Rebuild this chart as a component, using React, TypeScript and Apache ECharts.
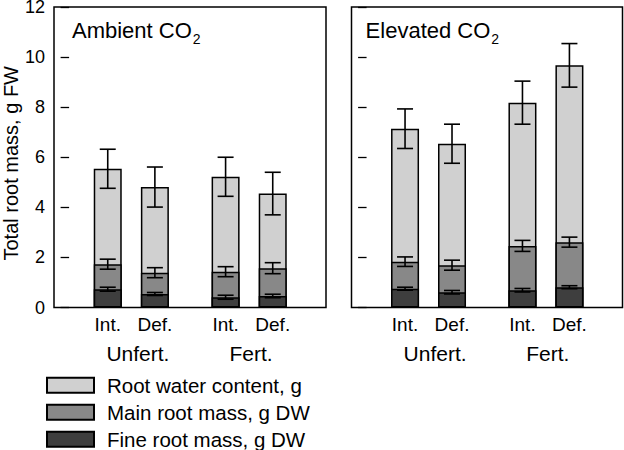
import React, { useEffect, useRef } from 'react';
import * as echarts from 'echarts';

// ---- Data ----
const treatmentLabels = ['Int.', 'Def.', 'Int.', 'Def.'];
const fertilizationLabels = ['Unfert.', 'Fert.'];
const panelTitles = ['Ambient CO', 'Elevated CO'];
const seriesNames = ['Root water content, g', 'Main root mass, g DW', 'Fine root mass, g DW'];

// Ambient CO2 panel: segment values (g) and SE
const ambientFine = [0.73, 0.54, 0.41, 0.46];
const ambientMain = [1.0, 0.85, 1.02, 1.11];
const ambientWater = [3.81, 3.42, 3.79, 2.98];
const ambientFineErr = [0.08, 0.06, 0.08, 0.07];
const ambientMainErr = [0.2, 0.2, 0.2, 0.22];
const ambientWaterErr = [0.78, 0.8, 0.78, 0.85];

// Elevated CO2 panel
const elevatedFine = [0.75, 0.61, 0.69, 0.81];
const elevatedMain = [1.08, 1.08, 1.77, 1.8];
const elevatedWater = [5.31, 4.85, 5.72, 7.06];
const elevatedFineErr = [0.06, 0.07, 0.07, 0.06];
const elevatedMainErr = [0.19, 0.2, 0.22, 0.2];
const elevatedWaterErr = [0.79, 0.78, 0.86, 0.87];

// ---- Layout (positions of bars on the x value axis) ----
const BAR_POS = [1, 2, 3.5, 4.5];
const GROUP_POS = [1.64, 4.04];
const X_MIN = -0.14;
const X_MAX = 5.63;

const FONT = 'Liberation Sans, Arial, Helvetica, sans-serif';
const COLORS = ['#d0d0d0', '#888888', '#3e3e3e'];

function panelSeries(
  p: number,
  fine: number[],
  main: number[],
  water: number[],
  fineErr: number[],
  mainErr: number[],
  waterErr: number[]
) {
  const cumFine = fine.map((v) => v);
  const cumMain = fine.map((v, i) => v + main[i]);
  const cumTotal = cumMain.map((v, i) => v + water[i]);
  const levels = [cumTotal, cumMain, cumFine];
  const bars = levels.map((vals, k) => ({
    type: 'bar',
    name: seriesNames[k],
    xAxisIndex: p * 2,
    yAxisIndex: p,
    barWidth: 28,
    barGap: '-100%',
    silent: true,
    itemStyle: { color: COLORS[k], borderColor: '#000', borderWidth: 1.5 },
    emphasis: { disabled: true },
    data: BAR_POS.map((x, i) => [x, vals[i]]),
  }));
  const errRows: number[][] = [];
  BAR_POS.forEach((x, i) => {
    errRows.push([x, cumTotal[i], waterErr[i]]);
    errRows.push([x, cumMain[i], mainErr[i]]);
    errRows.push([x, cumFine[i], fineErr[i]]);
  });
  const err = {
    type: 'custom',
    xAxisIndex: p * 2,
    yAxisIndex: p,
    z: 5,
    silent: true,
    dimensions: ['x', 'y', 'e'],
    encode: { x: 0, y: 1 },
    data: errRows,
    renderItem: (_params: any, api: any) => {
      const x = api.value(0);
      const y = api.value(1);
      const e = api.value(2);
      const top = api.coord([x, y + e]);
      const bot = api.coord([x, y - e]);
      const hw = 8;
      const style = { stroke: '#000', lineWidth: 1.6 };
      return {
        type: 'group',
        children: [
          { type: 'line', shape: { x1: top[0], y1: top[1], x2: bot[0], y2: bot[1] }, style },
          { type: 'line', shape: { x1: top[0] - hw, y1: top[1], x2: top[0] + hw, y2: top[1] }, style },
          { type: 'line', shape: { x1: bot[0] - hw, y1: bot[1], x2: bot[0] + hw, y2: bot[1] }, style },
        ],
      };
    },
  };
  return [...bars, err];
}

function xAxes(gridIndex: number) {
  return [
    {
      type: 'value',
      gridIndex,
      position: 'bottom',
      min: X_MIN,
      max: X_MAX,
      axisLine: { show: false },
      axisTick: { show: false },
      splitLine: { show: false },
      axisLabel: {
        customValues: BAR_POS,
        formatter: (v: number) => {
          const i = BAR_POS.findIndex((b) => Math.abs(b - v) < 1e-6);
          return i >= 0 ? treatmentLabels[i] : '';
        },
        margin: 7,
        fontSize: 19,
        color: '#000',
        fontFamily: FONT,
      },
    },
    {
      type: 'value',
      gridIndex,
      position: 'bottom',
      offset: 0,
      min: X_MIN,
      max: X_MAX,
      axisLine: { show: false },
      axisTick: { show: false },
      splitLine: { show: false },
      axisLabel: {
        customValues: GROUP_POS,
        formatter: (v: number) => {
          const i = GROUP_POS.findIndex((b) => Math.abs(b - v) < 1e-6);
          return i >= 0 ? fertilizationLabels[i] : '';
        },
        margin: 35,
        fontSize: 21,
        color: '#000',
        fontFamily: FONT,
      },
    },
  ];
}

function yAxis(gridIndex: number, withLabels: boolean) {
  return {
    type: 'value',
    gridIndex,
    min: 0,
    max: 12,
    interval: 2,
    axisLine: { show: false },
    axisTick: { show: true, inside: true, length: 8.5, lineStyle: { color: '#000', width: 1.3 } },
    splitLine: { show: false },
    axisLabel: {
      show: withLabels,
      margin: 9,
      fontSize: 18,
      lineHeight: 14,
      color: '#000',
      fontFamily: FONT,
    },
    name: withLabels ? 'Total root mass, g FW' : '',
    nameLocation: 'middle',
    nameGap: 33,
    nameTextStyle: { fontSize: 20, color: '#000', fontFamily: FONT, padding: [0, 12, 0, 0] },
  };
}

function titleRich(text: string, left: number) {
  return {
    text: `{a|${text}}{b|2}`,
    left,
    top: 15.8,
    padding: 0,
    textStyle: {
      fontFamily: FONT,
      fontWeight: 'normal',
      rich: {
        a: { fontSize: 22, color: '#000', fontFamily: FONT, fontWeight: 'normal' },
        b: { fontSize: 14, color: '#000', fontFamily: FONT, fontWeight: 'normal', padding: [16, 0, 0, 1] },
      },
    },
  };
}

export default function App() {
  const ref = useRef<HTMLDivElement>(null);
  useEffect(() => {
    if (!ref.current) return;
    const chart = echarts.init(ref.current, null, { renderer: 'svg' });
    const gridCommon = {
      top: 7,
      height: 300.5,
      show: true,
      borderColor: '#000',
      borderWidth: 1.5,
      backgroundColor: 'transparent',
      containLabel: false,
      outerBoundsMode: 'none',
    };
    chart.setOption({
      animation: false,
      backgroundColor: '#fff',
      textStyle: { fontFamily: FONT },
      title: [titleRich(panelTitles[0], 72), titleRich(panelTitles[1], 365.6)],
      grid: [
        { ...gridCommon, left: 54, width: 272 },
        { ...gridCommon, left: 351.5, width: 271 },
      ],
      xAxis: [...xAxes(0), ...xAxes(1)],
      yAxis: [yAxis(0, true), yAxis(1, false)],
      legend: {
        data: seriesNames,
        orient: 'vertical',
        left: 46,
        top: 374.75,
        padding: 0,
        itemGap: 6,
        itemWidth: 47,
        itemHeight: 15,
        icon: 'rect',
        selectedMode: false,
        textStyle: {
          fontSize: 20.5,
          color: '#000',
          fontFamily: FONT,
          padding: [0, 0, 0, 8],
        },
      },
      series: [
        ...panelSeries(0, ambientFine, ambientMain, ambientWater, ambientFineErr, ambientMainErr, ambientWaterErr),
        ...panelSeries(1, elevatedFine, elevatedMain, elevatedWater, elevatedFineErr, elevatedMainErr, elevatedWaterErr),
      ],
    });
    return () => chart.dispose();
  }, []);
  return (
    <div
      ref={ref}
      style={{ position: 'fixed', left: 0, top: 0, width: 624, height: 450, background: '#fff' }}
    />
  );
}
